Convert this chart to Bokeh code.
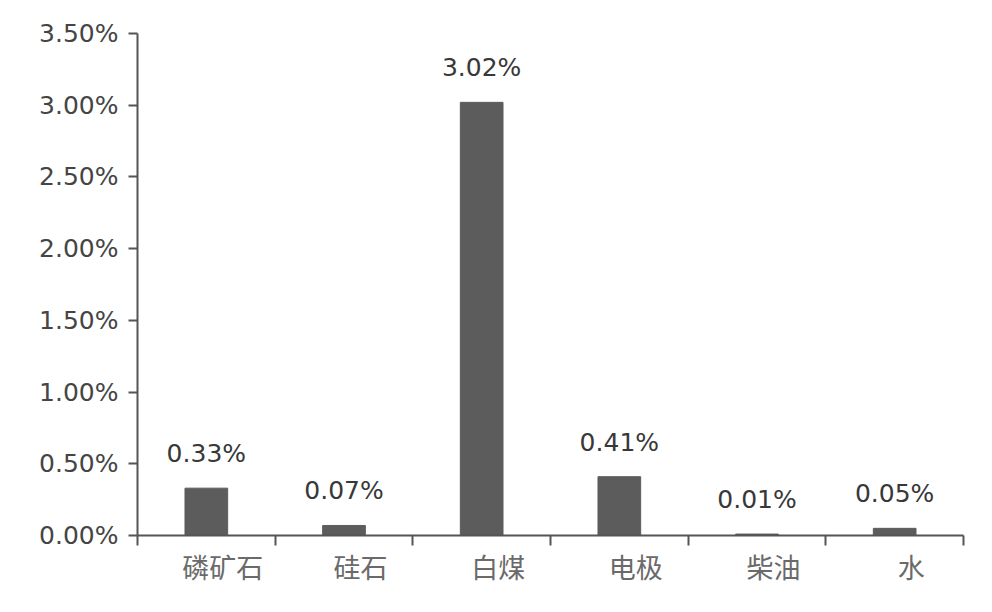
import numpy as np
from bokeh.plotting import figure
from bokeh.models import Range1d, FixedTicker, PrintfTickFormatter, LinearAxis, ColumnDataSource
from bokeh.core.properties import value
from bokeh.embed import file_html
from bokeh.resources import INLINE

categories = ["磷矿石", "硅石", "白煤", "电极", "柴油", "水"]
values = [0.33, 0.07, 3.02, 0.41, 0.01, 0.05]   # percent
value_labels = ["0.33%", "0.07%", "3.02%", "0.41%", "0.01%", "0.05%"]
y_ticks = [0.0, 0.5, 1.0, 1.5, 2.0, 2.5, 3.0, 3.5]

xs = [i + 0.5 for i in range(len(categories))]
label_shift = 0.12  # category labels sit a little right of the bar centres
label_pos = [x + label_shift for x in xs]
src = ColumnDataSource(dict(x=xs, top=values, lab=value_labels))

p = figure(width=992, height=612, x_range=Range1d(0, len(categories)), y_range=Range1d(0, 3.5),
           output_backend="svg", toolbar_location=None,
           min_border_left=137, min_border_right=29, min_border_top=33, min_border_bottom=77,
           x_axis_location=None, y_axis_location=None)
p.outline_line_color = None
p.xgrid.visible = False
p.ygrid.visible = False
p.background_fill_color = "white"
p.border_fill_color = "white"

axis_col = "#555555"

yaxis = LinearAxis(ticker=FixedTicker(ticks=y_ticks, minor_ticks=[]),
                   formatter=PrintfTickFormatter(format="%.2f%%"))
yaxis.axis_line_color = axis_col
yaxis.axis_line_width = 2
yaxis.major_tick_line_color = axis_col
yaxis.major_tick_line_width = 2
yaxis.major_tick_in = 0
yaxis.major_tick_out = 9
yaxis.minor_tick_line_color = None
yaxis.major_label_standoff = 10
yaxis.major_label_text_font = "DejaVu Sans"
yaxis.major_label_text_font_size = "25px"
yaxis.major_label_text_color = "#454545"
p.add_layout(yaxis, "left")

xaxis = LinearAxis(ticker=FixedTicker(ticks=label_pos, minor_ticks=list(range(len(categories) + 1))),
                   major_label_overrides={x: c for x, c in zip(label_pos, categories)})
xaxis.axis_line_color = axis_col
xaxis.axis_line_width = 2
xaxis.major_tick_line_color = None
xaxis.major_tick_in = 0
xaxis.major_tick_out = 0
xaxis.minor_tick_line_color = axis_col
xaxis.minor_tick_line_width = 2
xaxis.minor_tick_in = 0
xaxis.minor_tick_out = 10
xaxis.major_label_standoff = 1
xaxis.major_label_text_font = "Noto Sans CJK SC"
xaxis.major_label_text_font_size = "27px"
xaxis.major_label_text_color = "#6a6a6a"
p.add_layout(xaxis, "below")

p.vbar(x="x", top="top", width=0.31, source=src, fill_color="#5c5c5c", line_color="#5c5c5c")
p.text(x="x", y="top", text="lab", source=src, text_align="center", text_baseline="bottom",
       y_offset=-20, text_font=value("DejaVu Sans"), text_font_size="25px", text_color="#383838")

open("out.html", "w").write(file_html(p, INLINE))
